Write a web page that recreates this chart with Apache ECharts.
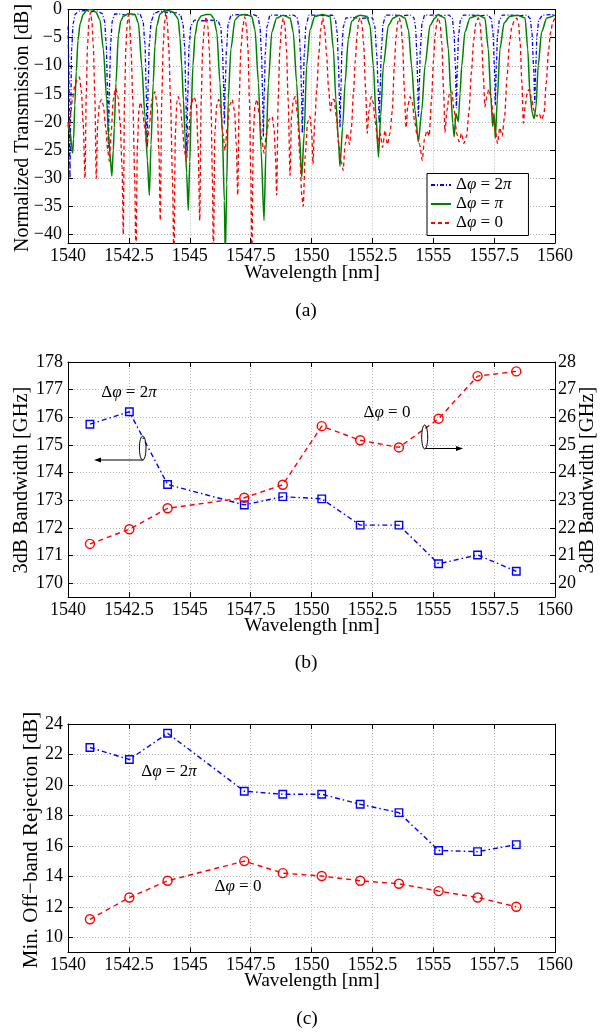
<!DOCTYPE html>
<html><head><meta charset="utf-8">
<script src="https://cdn.jsdelivr.net/npm/echarts@6/dist/echarts.min.js"></script>
<style>html,body{margin:0;padding:0;background:#fff}#c{width:608px;height:1034px}</style>
</head><body><div id="c"></div>
<script>
const FONT = 'Liberation Serif';

// ---------- Panel (a): spectra [wavelength nm, dB] ----------
const specBlue2pi = [[1540.00,-3.0],[1540.03,-9.0],[1540.06,-20.0],[1540.08,-30.0],[1540.11,-18.0],[1540.15,-7.0],[1540.21,-2.5],[1540.30,-0.8],[1540.45,-0.3],[1540.70,-0.2],[1540.95,-0.4],[1541.20,-0.3],[1541.40,-0.7],[1541.50,-2.0],[1541.57,-6.0],[1541.62,-14.0],[1541.66,-24.5],[1541.70,-14.0],[1541.75,-6.0],[1541.82,-2.0],[1541.92,-0.8],[1542.10,-0.8],[1542.40,-1.0],[1542.70,-0.9],[1542.95,-0.8],[1543.08,-2.0],[1543.16,-6.0],[1543.21,-14.0],[1543.25,-24.5],[1543.29,-14.0],[1543.34,-6.0],[1543.42,-2.0],[1543.55,-0.6],[1543.80,-0.3],[1544.10,-0.5],[1544.45,-0.6],[1544.62,-1.0],[1544.72,-2.5],[1544.79,-6.5],[1544.84,-15.0],[1544.88,-25.6],[1544.92,-15.0],[1544.97,-6.5],[1545.05,-2.8],[1545.20,-1.9],[1545.50,-2.0],[1545.85,-1.9],[1546.15,-2.0],[1546.27,-3.0],[1546.34,-7.0],[1546.39,-13.0],[1546.42,-20.3],[1546.46,-13.0],[1546.51,-7.0],[1546.58,-2.5],[1546.70,-1.0],[1547.00,-0.9],[1547.30,-1.0],[1547.60,-0.9],[1547.80,-1.2],[1547.88,-3.0],[1547.95,-8.0],[1547.99,-15.0],[1548.02,-22.6],[1548.06,-15.0],[1548.10,-8.0],[1548.17,-3.0],[1548.30,-1.0],[1548.60,-1.0],[1548.90,-1.1],[1549.25,-1.0],[1549.40,-1.3],[1549.48,-3.0],[1549.55,-8.0],[1549.59,-15.0],[1549.62,-22.0],[1549.66,-15.0],[1549.70,-8.0],[1549.77,-3.0],[1549.90,-1.0],[1550.20,-1.0],[1550.50,-1.1],[1550.85,-1.0],[1550.98,-1.8],[1551.05,-4.0],[1551.11,-10.0],[1551.14,-15.0],[1551.17,-21.0],[1551.21,-14.0],[1551.25,-7.0],[1551.31,-3.0],[1551.42,-1.5],[1551.70,-1.4],[1552.00,-1.6],[1552.30,-1.5],[1552.50,-1.5],[1552.60,-3.0],[1552.68,-8.0],[1552.74,-14.0],[1552.78,-20.2],[1552.82,-14.0],[1552.87,-7.0],[1552.94,-2.5],[1553.05,-1.0],[1553.35,-1.0],[1553.70,-1.1],[1554.05,-1.0],[1554.20,-1.4],[1554.27,-3.0],[1554.33,-8.0],[1554.36,-13.0],[1554.39,-19.0],[1554.43,-13.0],[1554.47,-7.0],[1554.54,-2.5],[1554.65,-1.0],[1554.95,-1.0],[1555.30,-1.1],[1555.65,-1.0],[1555.78,-1.6],[1555.85,-4.0],[1555.91,-10.0],[1555.95,-17.5],[1555.99,-10.0],[1556.04,-4.5],[1556.12,-1.8],[1556.25,-1.0],[1556.60,-1.0],[1556.95,-1.1],[1557.25,-1.0],[1557.38,-1.6],[1557.45,-4.0],[1557.51,-10.0],[1557.55,-17.0],[1557.59,-10.0],[1557.64,-4.5],[1557.72,-1.8],[1557.85,-1.0],[1558.20,-1.0],[1558.55,-1.1],[1558.85,-1.0],[1558.98,-1.6],[1559.05,-4.0],[1559.12,-10.0],[1559.17,-16.5],[1559.21,-10.0],[1559.26,-4.5],[1559.34,-1.8],[1559.50,-1.0],[1559.80,-0.9],[1560.00,-1.0]];

const specGreenPi = [[1540.00,-20.5],[1540.05,-21.5],[1540.10,-22.0],[1540.15,-24.5],[1540.19,-25.5],[1540.23,-23.0],[1540.28,-17.0],[1540.34,-11.0],[1540.41,-5.5],[1540.50,-2.5],[1540.62,-0.9],[1540.75,-0.2],[1540.88,0.0],[1541.02,-0.1],[1541.15,-0.5],[1541.31,-1.8],[1541.45,-7.0],[1541.59,-16.0],[1541.66,-22.0],[1541.72,-25.6],[1541.80,-29.6],[1541.86,-25.0],[1541.90,-21.0],[1541.97,-13.0],[1542.07,-4.5],[1542.17,-2.0],[1542.27,-1.2],[1542.48,-0.7],[1542.62,-0.8],[1542.75,-0.9],[1542.89,-2.4],[1543.03,-10.0],[1543.16,-19.0],[1543.26,-26.8],[1543.34,-33.0],[1543.41,-24.0],[1543.50,-13.0],[1543.57,-6.5],[1543.64,-3.0],[1543.78,-0.8],[1544.00,-0.1],[1544.15,-0.2],[1544.33,-0.5],[1544.45,-1.2],[1544.53,-1.8],[1544.60,-5.0],[1544.67,-10.0],[1544.74,-16.0],[1544.80,-22.0],[1544.87,-29.0],[1544.94,-35.7],[1545.00,-27.0],[1545.06,-18.0],[1545.13,-10.0],[1545.22,-4.5],[1545.33,-2.0],[1545.48,-1.1],[1545.68,-0.9],[1545.85,-0.9],[1545.98,-1.5],[1546.11,-4.0],[1546.24,-13.0],[1546.34,-22.0],[1546.42,-34.0],[1546.46,-44.0],[1546.52,-31.0],[1546.58,-16.0],[1546.69,-7.0],[1546.86,-1.8],[1547.06,-1.0],[1547.27,-0.9],[1547.54,-1.2],[1547.68,-3.6],[1547.82,-13.0],[1547.93,-25.0],[1548.05,-37.5],[1548.13,-25.0],[1548.23,-13.0],[1548.37,-4.0],[1548.57,-1.5],[1548.84,-1.0],[1549.12,-1.5],[1549.25,-4.0],[1549.39,-13.0],[1549.50,-22.0],[1549.60,-29.8],[1549.70,-22.0],[1549.80,-10.0],[1549.94,-3.6],[1550.14,-1.2],[1550.45,-0.9],[1550.76,-1.2],[1550.90,-7.1],[1551.00,-16.0],[1551.10,-23.0],[1551.17,-27.9],[1551.28,-20.8],[1551.38,-13.0],[1551.51,-5.3],[1551.65,-2.1],[1551.86,-1.2],[1552.00,-1.0],[1552.27,-1.2],[1552.40,-2.8],[1552.54,-10.0],[1552.65,-19.0],[1552.75,-26.2],[1552.84,-19.0],[1552.95,-10.0],[1553.16,-2.8],[1553.36,-1.5],[1553.60,-1.0],[1553.84,-1.5],[1553.98,-3.6],[1554.11,-10.0],[1554.25,-17.9],[1554.39,-23.5],[1554.53,-17.9],[1554.66,-10.0],[1554.87,-2.8],[1555.07,-1.5],[1555.20,-0.9],[1555.48,-1.5],[1555.62,-7.0],[1555.72,-14.9],[1555.80,-20.2],[1555.86,-22.6],[1555.93,-18.5],[1556.03,-19.9],[1556.10,-15.0],[1556.17,-10.0],[1556.30,-4.0],[1556.51,-1.5],[1556.85,-1.0],[1557.12,-1.5],[1557.26,-7.0],[1557.37,-16.0],[1557.44,-20.8],[1557.50,-18.5],[1557.55,-22.9],[1557.63,-16.0],[1557.74,-7.0],[1557.91,-2.4],[1558.15,-1.2],[1558.45,-1.0],[1558.77,-1.5],[1558.88,-7.0],[1558.97,-14.9],[1559.07,-18.5],[1559.14,-19.4],[1559.22,-17.3],[1559.31,-10.0],[1559.45,-4.0],[1559.66,-1.5],[1560.00,-1.0]];

const specRed0 = [[1540.00,-20.0],[1540.05,-21.5],[1540.10,-19.0],[1540.18,-16.0],[1540.28,-13.5],[1540.38,-12.3],[1540.47,-12.0],[1540.55,-14.5],[1540.62,-20.0],[1540.70,-30.0],[1540.75,-15.0],[1540.80,-6.5],[1540.86,-2.0],[1540.92,-0.5],[1540.98,-2.0],[1541.04,-6.5],[1541.10,-15.0],[1541.16,-30.0],[1541.22,-20.0],[1541.30,-16.5],[1541.38,-16.0],[1541.45,-17.0],[1541.55,-21.0],[1541.63,-25.0],[1541.70,-27.0],[1541.77,-22.0],[1541.86,-16.0],[1541.96,-14.0],[1542.05,-15.5],[1542.14,-20.0],[1542.22,-28.0],[1542.27,-40.0],[1542.32,-16.0],[1542.38,-6.5],[1542.43,-2.5],[1542.48,-0.9],[1542.53,-2.5],[1542.59,-7.0],[1542.66,-16.0],[1542.74,-30.0],[1542.79,-45.0],[1542.85,-24.0],[1542.92,-17.5],[1542.98,-16.5],[1543.06,-18.0],[1543.15,-21.0],[1543.24,-24.5],[1543.33,-21.0],[1543.45,-16.0],[1543.57,-14.6],[1543.66,-17.0],[1543.73,-25.0],[1543.79,-37.5],[1543.85,-16.0],[1543.91,-6.5],[1543.96,-2.5],[1544.02,-0.5],[1544.08,-2.5],[1544.14,-7.0],[1544.21,-16.0],[1544.29,-30.0],[1544.35,-45.0],[1544.41,-22.0],[1544.47,-16.5],[1544.53,-15.5],[1544.61,-17.0],[1544.70,-21.0],[1544.78,-25.0],[1544.86,-27.0],[1544.94,-23.0],[1545.05,-17.0],[1545.17,-15.5],[1545.27,-16.5],[1545.34,-24.0],[1545.41,-37.5],[1545.47,-16.0],[1545.53,-7.0],[1545.60,-3.0],[1545.67,-1.3],[1545.74,-3.0],[1545.80,-7.0],[1545.87,-16.0],[1545.93,-30.0],[1545.97,-45.0],[1546.03,-22.0],[1546.11,-17.0],[1546.19,-16.0],[1546.27,-17.5],[1546.36,-22.0],[1546.45,-25.0],[1546.54,-21.0],[1546.64,-17.0],[1546.74,-16.0],[1546.84,-18.0],[1546.91,-24.0],[1546.97,-33.0],[1547.03,-16.0],[1547.10,-7.0],[1547.18,-3.0],[1547.26,-1.3],[1547.33,-3.0],[1547.39,-7.0],[1547.45,-16.0],[1547.51,-30.0],[1547.55,-45.0],[1547.61,-22.0],[1547.68,-17.0],[1547.76,-16.0],[1547.85,-18.5],[1547.95,-23.0],[1548.05,-25.5],[1548.15,-22.0],[1548.26,-19.5],[1548.38,-19.0],[1548.46,-21.0],[1548.52,-26.0],[1548.57,-33.0],[1548.63,-16.0],[1548.70,-7.0],[1548.77,-3.0],[1548.84,-1.5],[1548.91,-3.0],[1548.97,-7.0],[1549.04,-16.0],[1549.12,-29.5],[1549.18,-19.0],[1549.26,-16.0],[1549.33,-15.5],[1549.42,-18.5],[1549.52,-26.0],[1549.60,-33.0],[1549.66,-35.0],[1549.74,-26.0],[1549.84,-20.0],[1549.94,-19.0],[1550.01,-22.0],[1550.06,-27.5],[1550.13,-20.0],[1550.22,-14.0],[1550.30,-8.0],[1550.38,-3.5],[1550.46,-1.5],[1550.54,-3.5],[1550.62,-8.0],[1550.70,-14.0],[1550.78,-18.0],[1550.86,-16.0],[1550.93,-16.0],[1551.02,-19.0],[1551.12,-24.0],[1551.22,-27.0],[1551.30,-28.6],[1551.38,-24.0],[1551.47,-22.0],[1551.56,-24.0],[1551.64,-21.0],[1551.72,-15.0],[1551.80,-9.0],[1551.87,-4.5],[1551.94,-2.0],[1552.00,-1.5],[1552.07,-2.5],[1552.14,-6.0],[1552.22,-14.0],[1552.29,-22.0],[1552.36,-18.0],[1552.45,-15.5],[1552.53,-16.5],[1552.62,-20.0],[1552.72,-23.5],[1552.82,-22.0],[1552.92,-24.5],[1553.02,-21.5],[1553.12,-24.0],[1553.22,-22.0],[1553.32,-18.0],[1553.40,-10.0],[1553.47,-5.0],[1553.54,-2.3],[1553.60,-1.5],[1553.67,-2.5],[1553.74,-6.0],[1553.81,-14.0],[1553.88,-21.0],[1553.96,-17.0],[1554.05,-15.5],[1554.14,-16.5],[1554.24,-20.0],[1554.34,-22.5],[1554.44,-24.0],[1554.55,-26.8],[1554.64,-23.0],[1554.74,-21.5],[1554.83,-22.5],[1554.93,-16.0],[1555.01,-9.0],[1555.08,-4.5],[1555.15,-2.2],[1555.21,-1.5],[1555.28,-2.5],[1555.35,-6.0],[1555.42,-14.0],[1555.48,-21.8],[1555.56,-18.0],[1555.66,-15.0],[1555.76,-14.5],[1555.86,-18.0],[1555.96,-22.0],[1556.06,-23.5],[1556.16,-22.0],[1556.26,-23.8],[1556.37,-22.5],[1556.47,-18.0],[1556.57,-11.0],[1556.66,-5.5],[1556.75,-2.5],[1556.85,-1.5],[1556.92,-2.5],[1556.99,-6.0],[1557.06,-12.0],[1557.12,-17.3],[1557.20,-15.5],[1557.28,-14.2],[1557.37,-15.5],[1557.46,-19.0],[1557.55,-21.5],[1557.64,-23.8],[1557.73,-21.0],[1557.83,-22.5],[1557.93,-19.0],[1558.03,-12.0],[1558.13,-6.0],[1558.23,-3.0],[1558.33,-2.0],[1558.43,-1.5],[1558.50,-2.5],[1558.57,-6.0],[1558.64,-13.0],[1558.70,-20.2],[1558.78,-17.0],[1558.87,-14.5],[1558.95,-14.2],[1559.04,-16.0],[1559.14,-18.0],[1559.25,-19.0],[1559.35,-18.5],[1559.45,-19.6],[1559.55,-18.5],[1559.64,-13.0],[1559.73,-7.5],[1559.82,-4.0],[1559.91,-2.2],[1560.00,-1.5]];

// ---------- Panels (b) and (c) ----------
const channelWl = [1540.90, 1542.52, 1544.09, 1547.24, 1548.82, 1550.42, 1552.00, 1553.59, 1555.22, 1556.82, 1558.41];
const bandwidth2pi = [175.75, 176.20, 173.57, 172.83, 173.13, 173.05, 172.10, 172.10, 170.70, 171.02, 170.43]; // GHz, left axis
const bandwidth0 = [21.42, 21.95, 22.71, 23.09, 23.56, 25.68, 25.17, 24.91, 25.95, 27.49, 27.66];            // GHz, right axis
const rejection2pi = [22.46, 21.67, 23.39, 19.59, 19.39, 19.39, 18.73, 18.18, 15.70, 15.62, 16.08];
const rejection0 = [11.18, 12.61, 13.71, 15.00, 14.21, 14.02, 13.71, 13.51, 13.03, 12.61, 12.00];

// tick labels
const xTickLabels = ['1540','1542.5','1545','1547.5','1550','1552.5','1555','1557.5','1560'];
const legendNames = ['Δφ = 2π', 'Δφ = π', 'Δφ = 0'];

const pair = (xs, ys) => xs.map((x, i) => [x, ys[i]]);
const GRIDC = '#b4b4b4';
const BLUE = '#0000ff', GREEN = '#008000', RED = '#ff0000';
const TICKFS = 18;

function xAx(grid, bottom) {
  return {
    type: 'value', gridIndex: grid, min: 1540, max: 1560, interval: 2.5,
    position: bottom ? 'bottom' : 'top',
    axisLine: {show: true, onZero: false, lineStyle: {color: '#000', width: 1}},
    axisTick: {show: true, inside: true, length: 5, lineStyle: {color: '#000', width: 1}},
    axisLabel: {show: bottom, margin: 4, color: '#000', fontFamily: FONT, fontSize: TICKFS,
      formatter: v => xTickLabels[Math.round((v - 1540) / 2.5)] || ''},
    splitLine: {show: bottom, lineStyle: {color: GRIDC, type: [1, 2], width: 1}}
  };
}
function yAx(grid, right, min, max, step, opts) {
  return Object.assign({
    type: 'value', gridIndex: grid, min: min, max: max, minInterval: step, maxInterval: step,
    position: right ? 'right' : 'left',
    axisLine: {show: true, onZero: false, lineStyle: {color: '#000', width: 1}},
    axisTick: {show: true, inside: true, length: 5, lineStyle: {color: '#000', width: 1}},
    axisLabel: {show: true, showMinLabel: false, margin: 5, color: '#000', fontFamily: FONT, fontSize: TICKFS},
    splitLine: {show: !right, lineStyle: {color: GRIDC, type: [1, 2], width: 1}}
  }, opts || {});
}

const chart = echarts.init(document.getElementById('c'));
const serifRich = {i: {fontStyle: 'italic', fontFamily: FONT, fontSize: 17, color: '#000'}};
const ital = s => s.replace(/([φπ])/g, '{i|$1}');

function txt(x, y, text, size, rot) {
  return {type: 'text', x: x, y: y, rotation: rot || 0, z: 100,
    style: {text: text, fill: '#000', font: size + 'px "' + FONT + '"',
      textAlign: 'center', textVerticalAlign: 'middle', align: 'center', verticalAlign: 'middle'}};
}
function mathTxt(x, y, text) {
  return {type: 'text', x: x, y: y, z: 100,
    style: {text: ital(text), fill: '#000', font: '17px "' + FONT + '"', rich: serifRich,
      textAlign: 'center', textVerticalAlign: 'middle', align: 'center', verticalAlign: 'middle'}};
}
const specLine = (name, data, color, width, type) => ({
  name: name, type: 'line', xAxisIndex: 0, yAxisIndex: 0, data: data, symbol: 'none',
  smooth: 0.25, smoothMonotone: 'x',
  lineStyle: {color: color, width: width, type: type}, itemStyle: {color: color}
});

const option = {
  backgroundColor: '#fff',
  animation: false,
  grid: [
    {left: 68, top: 9.5, width: 487, height: 233.5},
    {left: 68, top: 362, width: 487, height: 235},
    {left: 68, top: 724, width: 487, height: 228.5}
  ],
  xAxis: [xAx(0, true), xAx(0, false), xAx(1, true), xAx(1, false), xAx(2, true), xAx(2, false)],
  yAxis: [
    yAx(0, false, -41.5, 0, 5, {axisLabel: {show: true, showMinLabel: false, margin: 6, color: '#000', fontFamily: FONT, fontSize: TICKFS,
      formatter: v => v < 0 ? '−' + (-v) : String(v)}}),
    yAx(0, true, -41.5, 0, 5, {axisLabel: {show: false}}),
    yAx(1, false, 169.5, 178, 1),
    yAx(1, true, 19.5, 28, 1, {axisLabel: {show: true, showMinLabel: false, margin: 3, color: '#000', fontFamily: FONT, fontSize: TICKFS}}),
    yAx(2, false, 9, 24, 2),
    yAx(2, true, 9, 24, 2, {axisLabel: {show: false}})
  ],
  legend: {
    data: legendNames, orient: 'vertical', left: 427, top: 173.5, selectedMode: false,
    backgroundColor: '#fff', borderColor: '#000', borderWidth: 1, borderRadius: 0,
    padding: [3, 17, 4, 3], itemGap: 2, itemWidth: 20, itemHeight: 12,
    itemStyle: {opacity: 0},
    textStyle: {fontFamily: FONT, fontSize: 17, color: '#000', rich: serifRich},
    formatter: n => ital(n)
  },
  series: [
    specLine(legendNames[0], specBlue2pi, BLUE, 1.3, [4, 2, 1, 2]),
    specLine(legendNames[1], specGreenPi, GREEN, 1.5, 'solid'),
    specLine(legendNames[2], specRed0, RED, 1.3, [4, 3]),
    {name: 'bw2pi', type: 'line', xAxisIndex: 2, yAxisIndex: 2, data: pair(channelWl, bandwidth2pi),
      symbol: 'rect', symbolSize: 7.5, lineStyle: {color: BLUE, width: 1.4, type: [5, 3, 1.5, 3]},
      itemStyle: {color: 'rgba(0,0,0,0)', borderColor: BLUE, borderWidth: 1.4}},
    {name: 'bw0', type: 'line', xAxisIndex: 2, yAxisIndex: 3, data: pair(channelWl, bandwidth0),
      symbol: 'circle', symbolSize: 9, lineStyle: {color: RED, width: 1.4, type: [5, 4]},
      itemStyle: {color: 'rgba(0,0,0,0)', borderColor: RED, borderWidth: 1.4}},
    {name: 'rej2pi', type: 'line', xAxisIndex: 4, yAxisIndex: 4, data: pair(channelWl, rejection2pi),
      symbol: 'rect', symbolSize: 7.5, lineStyle: {color: BLUE, width: 1.4, type: [5, 3, 1.5, 3]},
      itemStyle: {color: 'rgba(0,0,0,0)', borderColor: BLUE, borderWidth: 1.4}},
    {name: 'rej0', type: 'line', xAxisIndex: 4, yAxisIndex: 4, data: pair(channelWl, rejection0),
      symbol: 'circle', symbolSize: 9, lineStyle: {color: RED, width: 1.4, type: [5, 4]},
      itemStyle: {color: 'rgba(0,0,0,0)', borderColor: RED, borderWidth: 1.4}}
  ],
  graphic: [
    txt(23, 128, 'Normalized Transmission [dB]', 20, Math.PI / 2),
    txt(312, 273, 'Wavelength [nm]', 19.5),
    txt(306, 311, '(a)', 19.5),
    txt(22, 480, '3dB Bandwidth [GHz]', 20.5, Math.PI / 2),
    txt(588, 480, '3dB Bandwidth [GHz]', 20.5, Math.PI / 2),
    txt(312, 626, 'Wavelength [nm]', 19.5),
    txt(306, 663, '(b)', 19.5),
    txt(31, 840, 'Min. Off−band Rejection [dB]', 21, Math.PI / 2),
    txt(312, 981, 'Wavelength [nm]', 19.5),
    txt(307, 1019, '(c)', 19.5),
    mathTxt(129, 393, legendNames[0]),
    mathTxt(387, 413, legendNames[2]),
    mathTxt(169, 772, legendNames[0]),
    mathTxt(238, 887, legendNames[2]),
    {type: 'ellipse', z: 100, shape: {cx: 142.7, cy: 448, rx: 3.3, ry: 12}, style: {fill: 'none', stroke: '#000', lineWidth: 1}},
    {type: 'line', z: 100, shape: {x1: 143.3, y1: 460, x2: 99, y2: 460}, style: {stroke: '#000', lineWidth: 1}},
    {type: 'polygon', z: 100, shape: {points: [[94, 460], [101, 457.5], [101, 462.5]]}, style: {fill: '#000'}},
    {type: 'ellipse', z: 100, shape: {cx: 424.7, cy: 437, rx: 3, ry: 12}, style: {fill: 'none', stroke: '#000', lineWidth: 1}},
    {type: 'line', z: 100, shape: {x1: 425, y1: 448.5, x2: 458, y2: 448.5}, style: {stroke: '#000', lineWidth: 1}},
    {type: 'polygon', z: 100, shape: {points: [[463, 448.5], [456, 446], [456, 451]]}, style: {fill: '#000'}}
  ]
};
chart.setOption(option);
</script></body></html>
